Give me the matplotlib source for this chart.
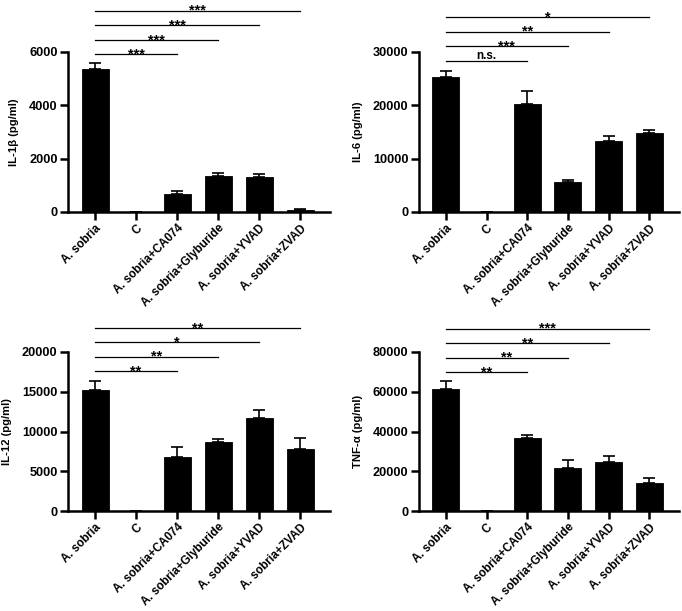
import matplotlib
matplotlib.use('Agg')
import matplotlib.pyplot as plt
import matplotlib.transforms as mtransforms
import numpy as np

plt.rcParams['font.family'] = ['Liberation Sans', 'DejaVu Sans']
plt.rcParams['font.weight'] = 'bold'

groups = ['A. sobria', 'C', 'A. sobria+CA074', 'A. sobria+Glyburide',
          'A. sobria+YVAD', 'A. sobria+ZVAD']

il1b_mean = [5360, 0, 680, 1350, 1330, 60]
il1b_err = [220, 0, 110, 120, 85, 35]
il6_mean = [25250, 0, 20200, 5700, 13300, 14850]
il6_err = [1150, 0, 2500, 300, 950, 500]
il12_mean = [15200, 0, 6800, 8700, 11700, 7800]
il12_err = [1150, 0, 1200, 400, 950, 1400]
tnf_mean = [61300, 0, 36700, 21800, 24800, 14300]
tnf_err = [4100, 0, 1500, 3800, 2700, 2500]

# significance vs A. sobria for groups 2..5
sig_targets = [2, 3, 4, 5]
il1b_sig = ['***', '***', '***', '***']
il6_sig = ['n.s.', '***', '**', '*']
il12_sig = ['**', '**', '*', '**']
tnf_sig = ['**', '**', '**', '***']

W, H = 682, 611
fig = plt.figure(figsize=(W / 100, H / 100), dpi=100)


def px_axes(left, right, bottom, top):
    return fig.add_axes([left / W, 1 - bottom / H, (right - left) / W, (bottom - top) / H])


panels = [
    # (axes box px, means, errs, ylabel, ymax, tick step, sigs, sig base)
    ((68, 330, 212, 52), il1b_mean, il1b_err, 'IL-1β (pg/ml)', 6000, 2000, il1b_sig, 0.985),
    ((419, 679, 212, 52), il6_mean, il6_err, 'IL-6 (pg/ml)', 30000, 10000, il6_sig, 0.946),
    ((68, 330, 511, 352), il12_mean, il12_err, 'IL-12 (pg/ml)', 20000, 5000, il12_sig, 0.879),
    ((419, 679, 511, 352), tnf_mean, tnf_err, 'TNF-α (pg/ml)', 80000, 20000, tnf_sig, 0.874),
]

x = np.arange(len(groups))
for box, means, errs, ylabel, ymax, step, sigs, base in panels:
    ax = px_axes(*box)
    ax.bar(x, means, width=0.66, color='black', edgecolor='black', linewidth=0.6,
           yerr=[np.zeros(len(errs)), errs], capsize=4.5,
           error_kw=dict(elinewidth=1.2, capthick=1.2, ecolor='black'))
    ax.set_xlim(-0.66, 5.73)
    ax.set_ylim(0, ymax)
    ax.set_yticks(np.arange(0, ymax + 1, step))
    ax.set_xticks(x)
    ax.set_xticklabels(groups, rotation=45, ha='right', rotation_mode='anchor',
                       fontsize=8.4, fontweight='bold')
    ax.tick_params(axis='both', width=1.8, length=5.5, pad=2)
    ax.tick_params(axis='y', labelsize=9.2)
    for lbl in ax.get_yticklabels():
        lbl.set_fontweight('bold')
    ax.set_ylabel(ylabel, fontsize=8.1, fontweight='bold', labelpad=7)
    ax.spines['top'].set_visible(False)
    ax.spines['right'].set_visible(False)
    ax.spines['left'].set_linewidth(1.8)
    ax.spines['bottom'].set_linewidth(1.8)

    trans = mtransforms.blended_transform_factory(ax.transData, ax.transAxes)
    for i, (target, label) in enumerate(zip(sig_targets, sigs)):
        yy = base + i * 0.091
        ax.plot([0, target], [yy, yy], color='black', lw=0.9, transform=trans, clip_on=False)
        off = 1.0 if label == 'n.s.' else -3.0
        ax.annotate(label, xy=(target / 2, yy), xycoords=trans, xytext=(0, off),
                    textcoords='offset points', ha='center', va='baseline',
                    fontsize=10.5 if label != 'n.s.' else 8.5, fontweight='bold',
                    annotation_clip=False)

fig.savefig('out.png', dpi=100, facecolor='white')
